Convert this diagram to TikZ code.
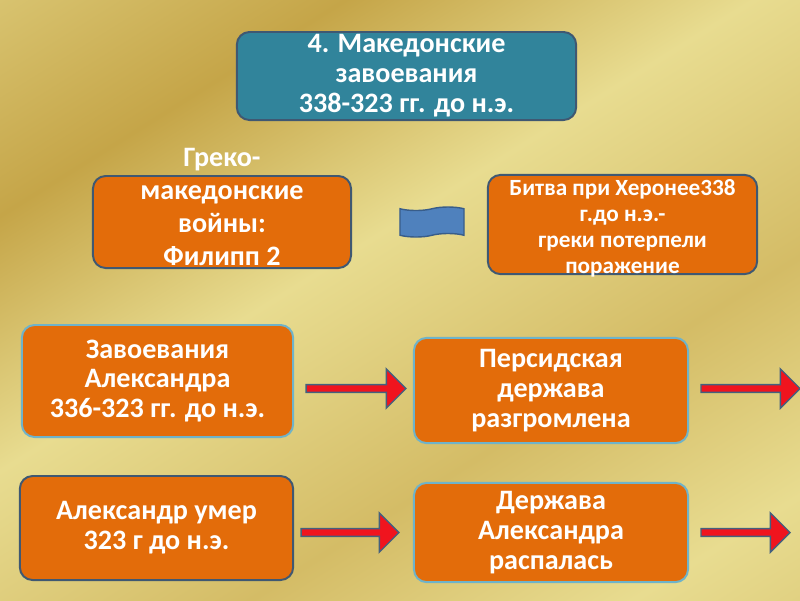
\documentclass[tikz,border=0pt]{standalone}
\usepackage{fontspec}
\setmainfont{Carlito}
\usetikzlibrary{positioning,calc,shapes.symbols}
\definecolor{boxorange}{HTML}{E36C0A}
\definecolor{boxline}{HTML}{3F5872}
\definecolor{lightline}{HTML}{6FB3C9}
\definecolor{topteal}{HTML}{31849B}
\definecolor{flagblue}{HTML}{4F81BD}
\definecolor{flagline}{HTML}{385D8A}
\definecolor{arrowred}{HTML}{F0141E}
\definecolor{arrowline}{HTML}{44607E}
\definecolor{goldlight}{HTML}{E8DC90}
\definecolor{golddark}{HTML}{C5A548}
\definecolor{goldmid}{HTML}{D4BC66}
\pgfdeclarehorizontalshading{goldbg}{100bp}{color(0bp)=(goldlight); color(4bp)=(goldlight); color(29bp)=(golddark); color(45bp)=(goldlight); color(63bp)=(goldmid); color(78bp)=(goldlight); color(97bp)=(goldmid); color(100bp)=(goldmid)}
\tikzset{
  box/.style={draw=boxline, line width=1.4pt, fill=boxorange, rounded corners=9pt, inner sep=0pt},
  lightbox/.style={box, draw=lightline},
  txt/.style={text=white, align=center, font=\fontsize{20}{21.3}\selectfont\bfseries},
  blockarrow/.style={draw=arrowline, fill=arrowred, line width=1pt,
    to path={let \p1=(\tikztostart), \p2=(\tikztotarget) in
      (\x1,{\y1+2.8pt}) -- ({\x2-14pt},{\y1+2.8pt}) -- ({\x2-14pt},{\y1+14pt}) -- (\x2,\y1)
      -- ({\x2-14pt},{\y1-14pt}) -- ({\x2-14pt},{\y1-2.8pt}) -- (\x1,{\y1-2.8pt}) -- cycle}}
}
\begin{document}
\begin{tikzpicture}[x=0.025cm, y=-0.025cm]
\shade[shading=goldbg, shading angle=-58] (0,0) rectangle (800,600);
\useasboundingbox (0,0) rectangle (800,600);
% title
\node[box, fill=topteal, minimum width=8.48cm, minimum height=2.2cm, txt] (title) at (406.5,76) {4. Македонские\\завоевания\\338-323 гг. до н.э.};
% second row
\node[box, minimum width=6.45cm, minimum height=2.3cm] (greco) at (222,222) {};
\node[txt, font=\fontsize{20}{23.5}\selectfont\bfseries] (grecotext) at (222,207) {Греко-\\македонские\\войны:\\Филипп 2};
\node[tape, tape bend height=2.5pt, draw=flagline, fill=flagblue, line width=1pt, minimum width=1.6cm, minimum height=0.75cm] (flag) at (432,222) {};
\node[box, minimum width=6.73cm, minimum height=2.48cm] (battle) at (622.5,224.5) {};
\node[txt, font=\fontsize{16.5}{18.5}\selectfont\bfseries] (battletext) at (622.5,228) {Битва при Херонее338\\г.до н.э.-\\греки потерпели\\поражение};
% third row
\node[lightbox, minimum width=6.78cm, minimum height=2.8cm, txt] (conquest) at (157.5,381) {Завоевания\\Александра\\336-323 гг. до н.э.};
\node[lightbox, minimum width=6.85cm, minimum height=2.63cm, txt] (persia) at (551,390.5) {Персидская\\держава\\разгромлена};
\coordinate (edge1) at (800,388);
\draw[blockarrow] ($(conquest.east |- persia.west)+(12,-2)$) to ($(persia.west)+(-7,-2)$);
\draw[blockarrow] ($(persia.east)+(12,-2)$) to (edge1);
% fourth row
\node[box, minimum width=6.83cm, minimum height=2.6cm, txt] (death) at (156.5,528) {Александр умер\\323 г до н.э.};
\node[lightbox, minimum width=6.85cm, minimum height=2.48cm, txt] (empire) at (551,532.5) {Держава\\Александра\\распалась};
\coordinate (edge2) at (790,532);
\draw[blockarrow] ($(death.east |- empire.west)+(7,0)$) to ($(empire.west)+(-14,0)$);
\draw[blockarrow] ($(empire.east)+(12,0)$) to (edge2);
\end{tikzpicture}
\end{document}
